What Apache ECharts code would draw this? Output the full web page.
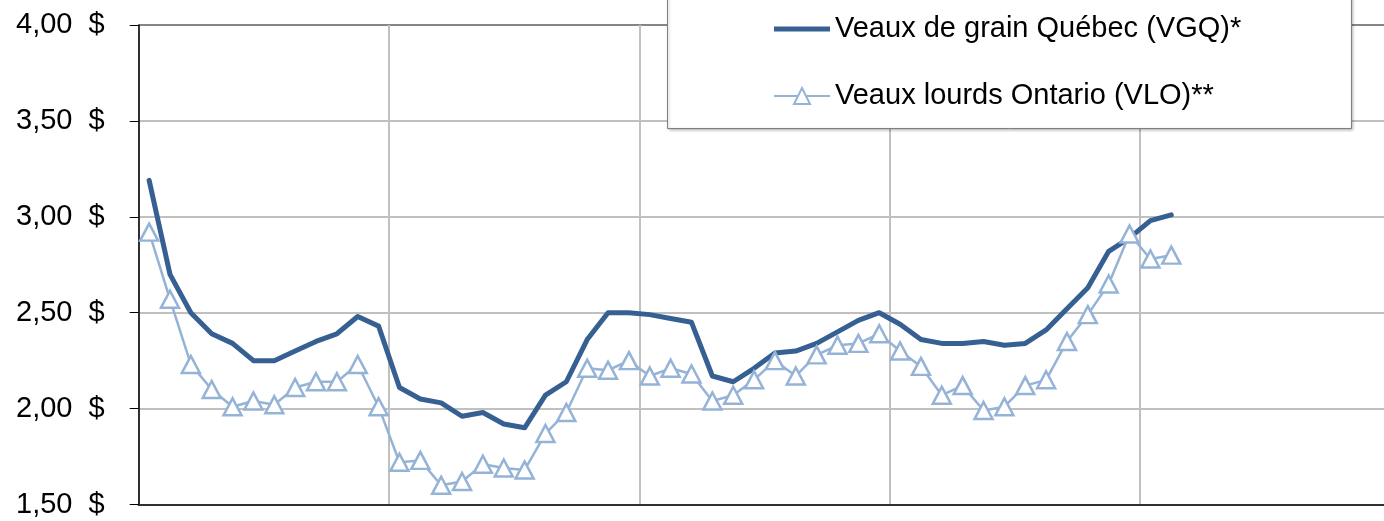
<!DOCTYPE html>
<html>
<head>
<meta charset="utf-8">
<script src="https://cdn.jsdelivr.net/npm/echarts@6/dist/echarts.min.js"></script>
<style>
  html, body { margin: 0; padding: 0; background: #fff; }
  #lineChart { width: 1384px; height: 521px; }
</style>
</head>
<body>
<div id="lineChart"></div>
<script>
  // mois et années (axe des x, étiquettes masquées)
  var mois = ['janv.', 'févr.', 'mars', 'avr.', 'mai', 'juin', 'juil.', 'août', 'sept.', 'oct.', 'nov.', 'déc.'];
  var annees = ['an 1', 'an 2', 'an 3', 'an 4', 'an 5'];
  var categories = [];
  for (var a = 0; a < annees.length; a++) {
    for (var m = 0; m < mois.length; m++) {
      categories.push(mois[m] + ' ' + annees[a]);
    }
  }

  // prix ($/lb)
  var serieNoms = ['Veaux de grain Québec (VGQ)*', 'Veaux lourds Ontario (VLO)**'];
  var vgq = [3.19, 2.70, 2.50, 2.39, 2.34, 2.25, 2.25, 2.30, 2.35, 2.39, 2.48, 2.43,
             2.11, 2.05, 2.03, 1.96, 1.98, 1.92, 1.90, 2.07, 2.14, 2.36, 2.50, 2.50,
             2.49, 2.47, 2.45, 2.17, 2.14, 2.21, 2.29, 2.30, 2.34, 2.40, 2.46, 2.50,
             2.44, 2.36, 2.34, 2.34, 2.35, 2.33, 2.34, 2.41, 2.52, 2.63, 2.82, 2.89, 2.98, 3.01];
  var vlo = [2.92, 2.57, 2.23, 2.10, 2.01, 2.04, 2.02, 2.11, 2.14, 2.14, 2.23, 2.01,
             1.72, 1.73, 1.60, 1.62, 1.71, 1.69, 1.68, 1.87, 1.98, 2.21, 2.20, 2.25,
             2.17, 2.21, 2.18, 2.04, 2.07, 2.15, 2.25, 2.17, 2.28, 2.33, 2.34, 2.39,
             2.30, 2.22, 2.07, 2.12, 1.99, 2.01, 2.12, 2.15, 2.35, 2.49, 2.65, 2.91, 2.78, 2.80];

  // axe des y
  var yMin = 1.5, yMax = 4, yPas = 0.5;

  var police = '"Liberation Sans", Arial, sans-serif';
  var bleuFonce = '#376092';
  var bleuPale = '#95b3d7';

  var options = {
    animation: false,
    textStyle: { fontFamily: police },
    grid: { left: 138.7, width: 1251.6, top: 25, bottom: 16.5, containLabel: false, outerBoundsMode: 'none' },
    graphic: [{
      type: 'rect',
      z: 5,
      shape: { x: 667.5, y: -5, width: 684, height: 133.5 },
      style: {
        fill: '#fff', stroke: '#7f7f7f', lineWidth: 1,
        shadowBlur: 3, shadowColor: 'rgba(0,0,0,0.25)', shadowOffsetX: 1, shadowOffsetY: 1
      }
    }],
    legend: {
      z: 6,
      orient: 'vertical',
      left: 773,
      top: 14,
      itemWidth: 56,
      itemHeight: 20,
      itemGap: 37,
      padding: 0,
      textStyle: { fontFamily: police, fontSize: 29, color: '#000', lineHeight: 30 },
      data: [
        { name: serieNoms[0], icon: 'path://M0,0 L56,0 L56,5 L0,5 Z' },
        { name: serieNoms[1] }
      ]
    },
    xAxis: {
      type: 'category',
      boundaryGap: true,
      data: categories,
      axisLine: { lineStyle: { color: '#303030', width: 2 } },
      axisTick: { show: false },
      axisLabel: { show: false },
      splitLine: {
        show: true,
        interval: function (i) { return i % 12 === 0; },
        lineStyle: { color: '#c0c0c0', width: 2 }
      }
    },
    yAxis: {
      type: 'value',
      min: yMin,
      max: yMax,
      interval: yPas,
      axisLine: { show: true, lineStyle: { color: '#000', width: 1.5 } },
      axisTick: { show: true, length: 9, lineStyle: { color: '#000', width: 1 } },
      axisLabel: {
        margin: 34,
        fontFamily: police,
        fontSize: 29,
        color: '#000',
        formatter: function (v) { return v.toFixed(2).replace('.', ',') + '  $'; }
      },
      splitLine: {
        show: true,
        lineStyle: { color: ['#c0c0c0', '#c0c0c0', '#c0c0c0', '#c0c0c0', '#c0c0c0', '#868686'], width: 2 }
      }
    },
    series: [
      {
        name: serieNoms[0],
        type: 'line',
        data: vgq,
        symbol: 'none',
        lineStyle: { color: bleuFonce, width: 5, join: 'round', cap: 'round' },
        itemStyle: { color: bleuFonce }
      },
      {
        name: serieNoms[1],
        type: 'line',
        data: vlo,
        symbol: 'triangle',
        symbolSize: [18, 17],
        showAllSymbol: true,
        lineStyle: { color: bleuPale, width: 2.5 },
        itemStyle: { color: '#fff', borderColor: bleuPale, borderWidth: 2.5 }
      }
    ]
  };

  var lineChart = echarts.init(document.getElementById('lineChart'));
  lineChart.setOption(options);
</script>
</body>
</html>
